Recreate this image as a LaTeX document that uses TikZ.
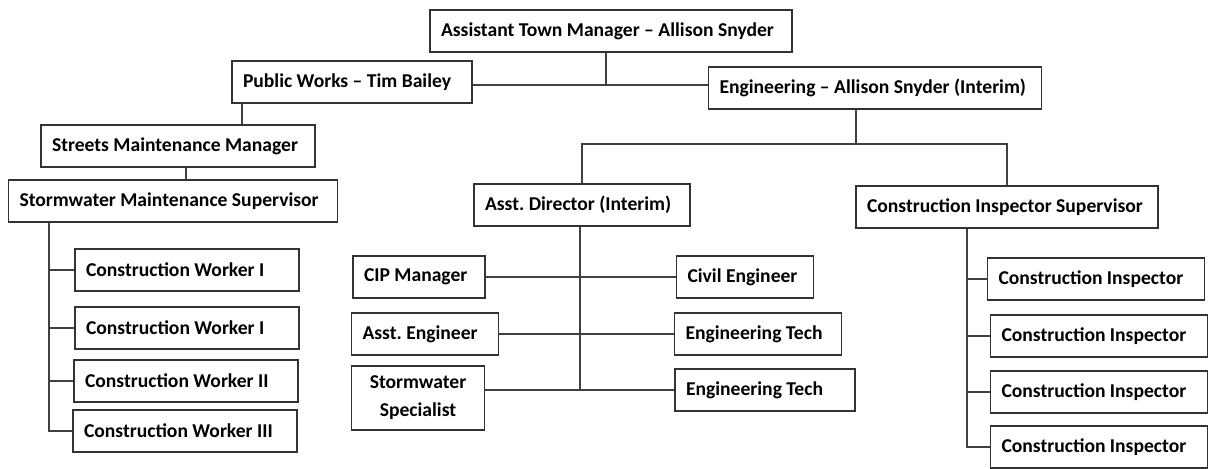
\documentclass[tikz,border=0pt]{standalone}
\usepackage{fontspec}
\setmainfont{Carlito}
\usepackage{tikz}
\frenchspacing
\tikzset{
	box/.style={draw=black!80,line width=0.7pt,fill=white,inner xsep=5.5pt,inner ysep=0pt,align=flush left,
		text width={0.5*#1-11pt},minimum height=21pt,font=\bfseries\fontsize{9.8}{12}\selectfont},
	link/.style={draw=black!75,line width=0.65pt}
}

\begin{document}
\begin{tikzpicture}[x=0.5pt,y=-0.5pt]
					\useasboundingbox (0,0) rectangle (1208,468);

					\node [box=362] (top) at (611,31) {Assistant Town Manager -- Allison Snyder};
					\node [box=240] (pw) at (352,82) {Public Works -- Tim Bailey};
					\node [box=333] (eng) at (875,88) {Engineering -- Allison Snyder (Interim)};
					\node [box=274] (streets) at (178,146) {Streets Maintenance Manager};
					\node [box=329] (swsup) at (173,201) {Stormwater Maintenance Supervisor};
					\node [box=216] (adir) at (582,205) {Asst. Director (Interim)};
					\node [box=302] (cis) at (1007,207) {Construction Inspector Supervisor};

					\node [box=224] (cw1) at (187,270) {Construction Worker I};
					\node [box=224] (cw2) at (187,328) {Construction Worker I};
					\node [box=224] (cw3) at (186,381) {Construction Worker II};
					\node [box=224] (cw4) at (185,431) {Construction Worker III};

					\node [box=132] (cip) at (419,277) {CIP Manager};
					\node [box=147] (aeng) at (425,334) {Asst. Engineer};
					\node [box=133,align=center,minimum height=32pt] (sws) at (418,398) {Stormwater\\[2pt]Specialist};
					\node [box=137] (civ) at (745,277) {Civil Engineer};
					\node [box=167] (et1) at (758,334) {Engineering Tech};
					\node [box=180] (et2) at (765,390) {Engineering Tech};

					\node [box=217] (ci1) at (1096,279) {Construction Inspector};
					\node [box=217] (ci2) at (1099,336) {Construction Inspector};
					\node [box=217] (ci3) at (1099,392) {Construction Inspector};
					\node [box=217] (ci4) at (1099,447) {Construction Inspector};

					\coordinate (j1) at (606,85);
					\coordinate (j2) at (242,0);
					\coordinate (j3) at (186,0);
					\coordinate (j4) at (49,431);
					\coordinate (j5) at (856,144);
					\coordinate (j6) at (580,390);
					\coordinate (j7) at (967,447);

					\draw[link] (pw.east |- j1) -- (eng.west |- j1);
					\draw[link] (top.south -| j1) -- (j1);
					\draw[link] (pw.south -| j2) -- (streets.north -| j2);
					\draw[link] (streets.south -| j3) -- (swsup.north -| j3);
					\draw[link] (swsup.south -| j4) -- (j4) -- (cw4.west);
					\draw[link] (eng.south -| j5) -- (j5);
					\draw[link] (adir.north) -- (adir.north |- j5) -- (cis.north |- j5) -- (cis.north);
					\draw[link] (adir.south -| j6) -- (j6);
					\draw[link] (cis.south -| j7) -- (j7) -- (ci4.west);

					\foreach \n in {cw1,cw2,cw3}
						\draw[link] (\n.west) -- (\n.west -| j4);
					\foreach \n in {ci1,ci2,ci3}
						\draw[link] (\n.west) -- (\n.west -| j7);
					\draw[link] (cip.east) -- (cip.east -| civ.west);
					\draw[link] (aeng.east) -- (aeng.east -| et1.west);
					\draw[link] (sws.east |- et2.west) -- (et2.west);
				\end{tikzpicture}
\end{document}
